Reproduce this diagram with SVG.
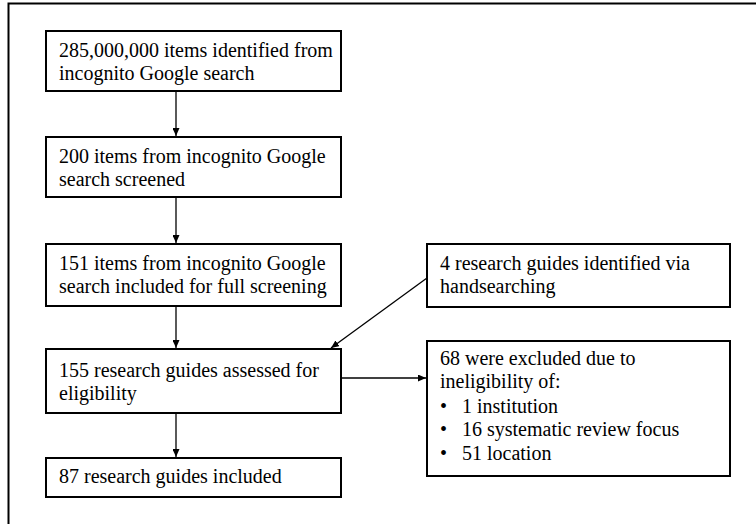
<svg xmlns="http://www.w3.org/2000/svg" width="756" height="524" viewBox="0 0 756 524">
<defs>
<marker id="ah" viewBox="0 0 10 10" refX="10" refY="5" markerWidth="8" markerHeight="7" markerUnits="userSpaceOnUse" orient="auto" preserveAspectRatio="none">
<path d="M0,0 L10,5 L0,10 z" fill="#000"/>
</marker>
<style>
.box{fill:#fff;stroke:#000;stroke-width:2}
.t{font-size:20px;fill:#000}
.c{stroke:#000;stroke-width:1.3;fill:none;marker-end:url(#ah)}
</style>
</defs>
<rect x="0" y="0" width="756" height="524" fill="#fff"/>
<rect x="8.5" y="3.5" width="800" height="600" fill="none" stroke="#000" stroke-width="2"/>
<g id="connectors">
<line class="c" x1="176" y1="92" x2="176" y2="136"/>
<line class="c" x1="176" y1="198" x2="176" y2="243"/>
<line class="c" x1="176" y1="307" x2="176" y2="348"/>
<line class="c" x1="176" y1="414" x2="176" y2="457"/>
<line class="c" x1="427" y1="278" x2="331" y2="348"/>
<line class="c" x1="342" y1="378" x2="426" y2="378"/>
</g>
<g font-family="'Liberation Serif', 'Times New Roman', 'DejaVu Serif', serif">
<g id="n1">
<rect class="box" x="46" y="31" width="295" height="60"/>
<text class="t" x="59" y="57">285,000,000 items identified from</text>
<text class="t" x="59" y="80">incognito Google search</text>
</g>
<g id="n2">
<rect class="box" x="46" y="137" width="295" height="60"/>
<text class="t" x="59" y="163">200 items from incognito Google</text>
<text class="t" x="59" y="186">search screened</text>
</g>
<g id="n3">
<rect class="box" x="46" y="244" width="295" height="62"/>
<text class="t" x="59" y="270">151 items from incognito Google</text>
<text class="t" x="59" y="293">search included for full screening</text>
</g>
<g id="n4">
<rect class="box" x="46" y="349" width="295" height="64"/>
<text class="t" x="59" y="377">155 research guides assessed for</text>
<text class="t" x="59" y="400">eligibility</text>
</g>
<g id="n5">
<rect class="box" x="46" y="458" width="295" height="39"/>
<text class="t" x="59" y="483">87 research guides included</text>
</g>
<g id="n6">
<rect class="box" x="427" y="244" width="303" height="63"/>
<text class="t" x="440" y="270">4 research guides identified via</text>
<text class="t" x="440" y="293">handsearching</text>
</g>
<g id="n7">
<rect class="box" x="427" y="341" width="303" height="135"/>
<text class="t" x="440" y="365">68 were excluded due to</text>
<text class="t" x="440" y="388">ineligibility of:</text>
<text class="t" x="440" y="413">•</text>
<text class="t" x="462" y="413">1 institution</text>
<text class="t" x="440" y="436">•</text>
<text class="t" x="462" y="436">16 systematic review focus</text>
<text class="t" x="440" y="460">•</text>
<text class="t" x="462" y="460">51 location</text>
</g>
</g>
</svg>
